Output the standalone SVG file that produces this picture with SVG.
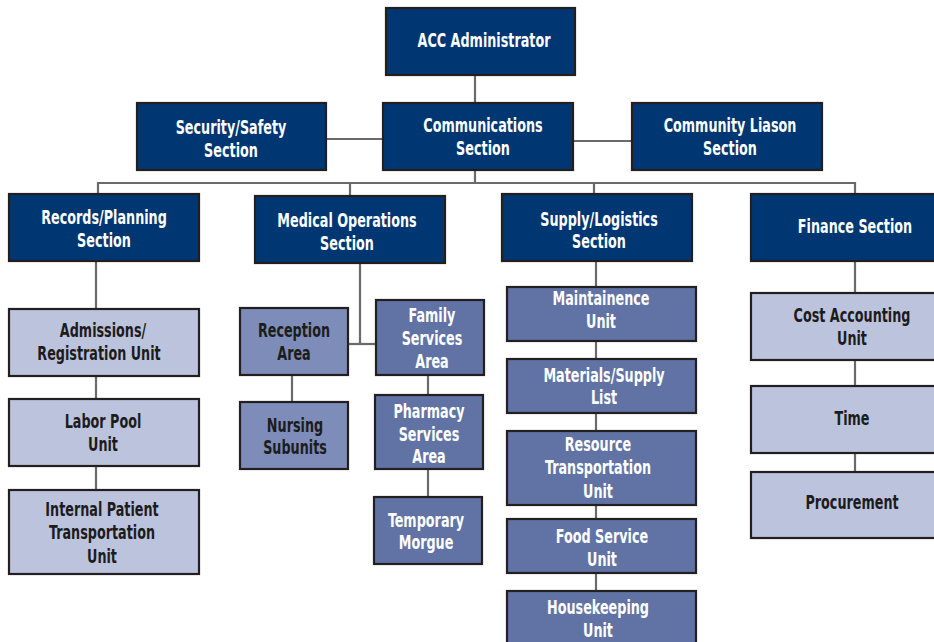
<svg xmlns="http://www.w3.org/2000/svg" width="934" height="642" viewBox="0 0 934 642">
<style>
.b rect{stroke:#231f20;stroke-width:2.2}
.navy rect{fill:#003671}
.mid rect{fill:#6173a4}
.rec rect{fill:#7d8cb9}
.lt rect{fill:#bcc3dd}
text{font-family:"DejaVu Sans Condensed","DejaVu Sans",sans-serif;font-weight:bold;font-size:20px;text-anchor:middle}
.navy text,.mid text{fill:#ffffff}
.rec text,.lt text{fill:#1c1c1c}
.conn line{stroke:#6a6a6a;stroke-width:2.2;fill:none}
</style>
<rect width="934" height="642" fill="#ffffff"/>
<g class="conn">
<line x1="475" y1="75" x2="475" y2="103"/>
<line x1="326" y1="139" x2="383" y2="139"/>
<line x1="573" y1="141" x2="632" y2="141"/>
<line x1="475" y1="170" x2="475" y2="183"/>
<line x1="97" y1="183" x2="856" y2="183"/>
<line x1="98" y1="182" x2="98" y2="194"/>
<line x1="350" y1="182" x2="350" y2="196"/>
<line x1="594" y1="182" x2="594" y2="194"/>
<line x1="855" y1="182" x2="855" y2="194"/>
<line x1="96" y1="261" x2="96" y2="309"/>
<line x1="96" y1="376" x2="96" y2="399"/>
<line x1="96" y1="466" x2="96" y2="490"/>
<line x1="360" y1="263" x2="360" y2="344"/>
<line x1="348" y1="344" x2="376" y2="344"/>
<line x1="292" y1="375" x2="292" y2="402"/>
<line x1="428" y1="375" x2="428" y2="395"/>
<line x1="428" y1="469" x2="428" y2="497"/>
<line x1="596" y1="261" x2="596" y2="287"/>
<line x1="596" y1="341" x2="596" y2="359"/>
<line x1="596" y1="413" x2="596" y2="431"/>
<line x1="596" y1="505" x2="596" y2="519"/>
<line x1="596" y1="573" x2="596" y2="591"/>
<line x1="855" y1="261" x2="855" y2="293"/>
<line x1="855" y1="360" x2="855" y2="386"/>
<line x1="855" y1="453" x2="855" y2="472"/>
</g>
<g id="acc" class="b navy"><rect x="386" y="8" width="189" height="67"/><text transform="translate(484 47) scale(0.71 1)">ACC Administrator</text></g>
<g id="security" class="b navy"><rect x="137" y="103" width="189" height="67"/><text transform="translate(231 134) scale(0.71 1)">Security/Safety</text><text transform="translate(231 157) scale(0.71 1)">Section</text></g>
<g id="communications" class="b navy"><rect x="383" y="103" width="190" height="67"/><text transform="translate(483 132) scale(0.71 1)">Communications</text><text transform="translate(483 155) scale(0.71 1)">Section</text></g>
<g id="community" class="b navy"><rect x="632" y="103" width="190" height="67"/><text transform="translate(730 132) scale(0.71 1)">Community Liason</text><text transform="translate(730 155) scale(0.71 1)">Section</text></g>
<g id="records" class="b navy"><rect x="9" y="194" width="190" height="67"/><text transform="translate(104 224) scale(0.71 1)">Records/Planning</text><text transform="translate(104 247) scale(0.71 1)">Section</text></g>
<g id="medical" class="b navy"><rect x="255" y="196" width="190" height="67"/><text transform="translate(347 227) scale(0.71 1)">Medical Operations</text><text transform="translate(347 250) scale(0.71 1)">Section</text></g>
<g id="supply" class="b navy"><rect x="502" y="194" width="190" height="67"/><text transform="translate(599 226) scale(0.71 1)">Supply/Logistics</text><text transform="translate(599 248) scale(0.71 1)">Section</text></g>
<g id="finance" class="b navy"><rect x="751" y="194" width="210" height="67"/><text transform="translate(855 233) scale(0.71 1)">Finance Section</text></g>
<g id="admissions" class="b lt"><rect x="9" y="309" width="190" height="67"/><text transform="translate(103 337) scale(0.71 1)">Admissions/</text><text transform="translate(99 360) scale(0.71 1)">Registration Unit</text></g>
<g id="laborpool" class="b lt"><rect x="9" y="399" width="190" height="67"/><text transform="translate(103 428) scale(0.71 1)">Labor Pool</text><text transform="translate(103 451) scale(0.71 1)">Unit</text></g>
<g id="internal" class="b lt"><rect x="9" y="490" width="190" height="84"/><text transform="translate(102 516) scale(0.71 1)">Internal Patient</text><text transform="translate(102 539) scale(0.71 1)">Transportation</text><text transform="translate(102 563) scale(0.71 1)">Unit</text></g>
<g id="reception" class="b rec"><rect x="240" y="308" width="108" height="67"/><text transform="translate(294 337) scale(0.71 1)">Reception</text><text transform="translate(294 360) scale(0.71 1)">Area</text></g>
<g id="nursing" class="b rec"><rect x="240" y="402" width="108" height="67"/><text transform="translate(295 432) scale(0.71 1)">Nursing</text><text transform="translate(295 454) scale(0.71 1)">Subunits</text></g>
<g id="family" class="b mid"><rect x="376" y="300" width="108" height="75"/><text transform="translate(432 322) scale(0.71 1)">Family</text><text transform="translate(432 345) scale(0.71 1)">Services</text><text transform="translate(432 368) scale(0.71 1)">Area</text></g>
<g id="pharmacy" class="b mid"><rect x="375" y="395" width="108" height="74"/><text transform="translate(429 418) scale(0.71 1)">Pharmacy</text><text transform="translate(429 441) scale(0.71 1)">Services</text><text transform="translate(429 463) scale(0.71 1)">Area</text></g>
<g id="morgue" class="b mid"><rect x="374" y="497" width="108" height="67"/><text transform="translate(426 527) scale(0.71 1)">Temporary</text><text transform="translate(426 549) scale(0.71 1)">Morgue</text></g>
<g id="maintainence" class="b mid"><rect x="507" y="287" width="189" height="54"/><text transform="translate(601 305) scale(0.71 1)">Maintainence</text><text transform="translate(601 328) scale(0.71 1)">Unit</text></g>
<g id="materials" class="b mid"><rect x="507" y="359" width="189" height="54"/><text transform="translate(604 382) scale(0.71 1)">Materials/Supply</text><text transform="translate(604 404) scale(0.71 1)">List</text></g>
<g id="resource" class="b mid"><rect x="507" y="431" width="189" height="74"/><text transform="translate(598 451) scale(0.71 1)">Resource</text><text transform="translate(598 474) scale(0.71 1)">Transportation</text><text transform="translate(598 498) scale(0.71 1)">Unit</text></g>
<g id="food" class="b mid"><rect x="507" y="519" width="189" height="54"/><text transform="translate(602 543) scale(0.71 1)">Food Service</text><text transform="translate(602 566) scale(0.71 1)">Unit</text></g>
<g id="housekeeping" class="b mid"><rect x="507" y="591" width="189" height="60"/><text transform="translate(598 614) scale(0.71 1)">Housekeeping</text><text transform="translate(598 637) scale(0.71 1)">Unit</text></g>
<g id="cost" class="b lt"><rect x="751" y="293" width="205" height="67"/><text transform="translate(852 322) scale(0.71 1)">Cost Accounting</text><text transform="translate(852 345) scale(0.71 1)">Unit</text></g>
<g id="time" class="b lt"><rect x="751" y="386" width="205" height="67"/><text transform="translate(852 425) scale(0.71 1)">Time</text></g>
<g id="procurement" class="b lt"><rect x="751" y="472" width="205" height="66"/><text transform="translate(852 509) scale(0.71 1)">Procurement</text></g>
</svg>
